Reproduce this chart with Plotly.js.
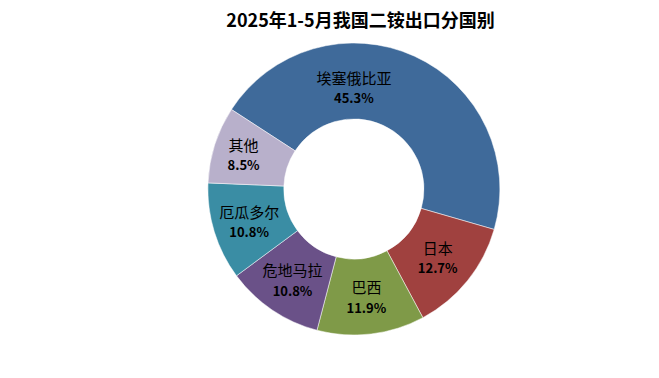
<!DOCTYPE html>
<html><head><meta charset="utf-8">
<script src="https://cdn.plot.ly/plotly-3.0.1.min.js"></script>
<style>html,body{margin:0;padding:0;background:#fff;}#chart{width:659px;height:378px;}</style>
</head><body><div id="chart"></div>
<script>
const titleText = '2025年1-5月我国二铵出口分国别';
const countries = ['埃塞俄比亚', '日本', '巴西', '危地马拉', '厄瓜多尔', '其他'];
const shares = [45.3, 12.7, 11.9, 10.8, 10.8, 8.5];
const colors = ['#3F6A9A', '#A0413F', '#7F9A48', '#6A5188', '#3A8DA4', '#B8B0CB'];

const trace = {
  type: 'pie',
  labels: countries,
  values: shares,
  sort: false,
  direction: 'clockwise',
  rotation: -57,
  hole: 0.48,
  marker: {colors: colors, line: {color: '#ffffff', width: 0.5}},
  texttemplate: '%{label}<br><span style="font-size:13px"><b>%{percent:.1%}</b></span>',
  textposition: 'inside',
  insidetextorientation: 'horizontal',
  textfont: {family: '"Noto Sans CJK SC", sans-serif', size: 15, color: '#000000'},
  domain: {x: [0.237, 0.837], y: [0, 1]},
  showlegend: false,
  hoverinfo: 'label+percent'
};

const layout = {
  width: 659, height: 378,
  margin: {l: 0, r: 0, t: 43, b: 43},
  paper_bgcolor: '#ffffff',
  title: {text: '<b>' + titleText + '</b>', x: 0.547, xanchor: 'center', y: 0.945, yanchor: 'middle',
          font: {family: '"Noto Sans CJK SC", sans-serif', size: 18, color: '#000000'}},
  showlegend: false
};
Plotly.newPlot('chart', [trace], layout, {displayModeBar: false, staticPlot: true});
</script></body></html>
